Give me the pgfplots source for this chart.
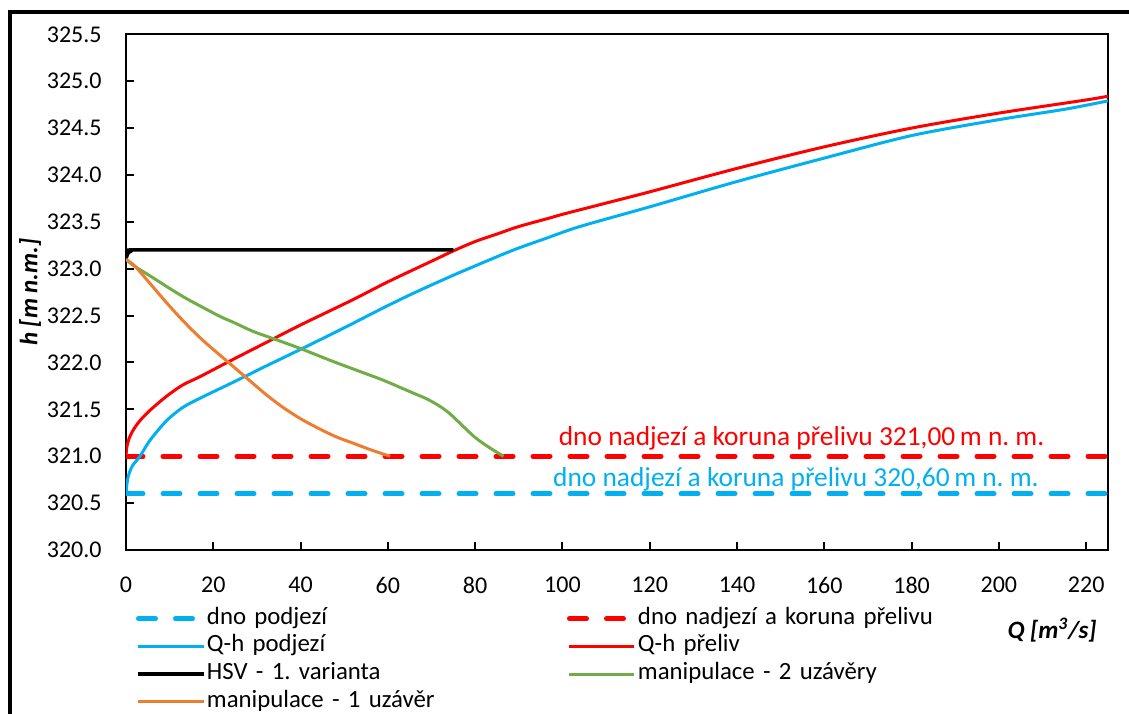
\documentclass[border=0pt]{standalone}
\usepackage{pgfplots}
\pgfplotsset{compat=1.18}
\usepackage{fontspec}
\setmainfont{Carlito}
\frenchspacing
\definecolor{cblue}{HTML}{00B0F0}
\definecolor{cred}{HTML}{FF0000}
\definecolor{cgreen}{HTML}{70AD47}
\definecolor{corange}{HTML}{ED7D31}
\begin{document}
\frenchspacing
\begin{tikzpicture}
\begin{axis}[
  at={(0,0)}, anchor=south west,
  scale only axis, width=491pt, height=257.85pt,
  xmin=0, xmax=225, ymin=320, ymax=325.5,
  xtick={0,20,40,60,80,100,120,140,160,180,200,220},
  ytick={320,320.5,321,321.5,322,322.5,323,323.5,324,324.5,325,325.5},
  xtick pos=bottom, ytick pos=left,
  tick align=inside, major tick length=4pt,
  tick style={black, line width=1pt},
  axis line style={black, line width=1pt},
  /pgf/number format/assume math mode=true,
  tick label style={font=\fontsize{12}{14}\selectfont},
  y tick label style={/pgf/number format/fixed, /pgf/number format/fixed zerofill, /pgf/number format/precision=1, anchor=east, inner sep=0pt, xshift=-12pt},
  x tick label style={anchor=north, inner sep=0pt, yshift=-13.5pt},
  every axis y label/.style={at={(axis description cs:0,0.5)}, xshift=-48pt, rotate=90, anchor=center, font=\fontsize{12.5}{15}\selectfont\bfseries\itshape},
  every axis x label/.style={at={(axis description cs:0.943,0)}, yshift=-40pt, anchor=center, font=\fontsize{12.5}{15}\selectfont\bfseries\itshape},
  ylabel={h [m n.m.]},
  xlabel={Q [m\textsuperscript{3}/s]},
  legend columns=2,
  legend cell align=left,
  legend style={draw=none, fill=none, inner sep=0pt, outer sep=0pt,
    at={(axis description cs:0,0)}, anchor=north west, xshift=5pt, yshift=-27.5pt,
    font=\fontsize{12.4}{14}\selectfont,
    nodes={inner sep=0pt, text height=9.6pt, text depth=4.2pt, text width=180pt, align=left},
    /tikz/every odd column/.append style={column sep=0.5pt},
    /tikz/every even column/.append style={column sep=0pt},
    row sep=0pt},
  legend image code/.code={\draw[#1] (0pt,0pt) -- (32.5pt,0pt);},
]
\addplot[cblue, line width=2.5pt, dash pattern=on 8.5pt off 10pt, line cap=round] coordinates {(0,320.6) (225,320.6)};
\addlegendentry{dno podjezí}
\addplot[cred, line width=2.5pt, dash pattern=on 8.5pt off 10pt, line cap=round] coordinates {(0,321.0) (225,321.0)};
\addlegendentry{dno nadjezí a koruna přelivu}
\addplot[cblue, line width=1.5pt, smooth, tension=0.5] coordinates {
(0,320.6) (0.2,320.7) (0.6,320.8) (1.5,320.9) (3.2,321.0) (5.5,321.17) (9.3,321.38) (13,321.52) (17,321.62) (24.6,321.79) (32,321.96) (40,322.14) (50,322.37) (58,322.56) (65,322.72) (73.5,322.9) (80,323.03) (88.8,323.2) (96,323.32) (104,323.45) (120,323.66) (140,323.93) (160,324.18) (180,324.42) (200,324.59) (215,324.7) (225,324.79)};
\addlegendentry{Q-h podjezí}
\addplot[cred, line width=1.5pt, smooth, tension=0.5] coordinates {
(0,321.0) (0.2,321.1) (0.8,321.2) (1.8,321.29) (3.2,321.38) (5.5,321.49) (9.3,321.64) (13,321.76) (17,321.85) (24,322.02) (32,322.21) (40,322.4) (52,322.67) (60,322.86) (70,323.08) (75,323.19) (80,323.29) (85,323.37) (90,323.45) (97,323.54) (100,323.58) (110,323.7) (120,323.82) (140,324.07) (160,324.3) (180,324.5) (200,324.66) (220,324.8) (225,324.84)};
\addlegendentry{Q-h přeliv}
\addplot[black, line width=1.75pt, smooth, tension=0.4] coordinates {
(0,323.1) (0.4,323.16) (1.2,323.19) (2.5,323.2) (75,323.2)};
\addlegendentry{HSV - 1. varianta}
\addplot[cgreen, line width=1.5pt, smooth, tension=0.5] coordinates {
(0,323.1) (1.5,323.04) (3.2,322.99) (6.3,322.9) (10,322.79) (13.9,322.68) (17.5,322.59) (21.6,322.49) (25,322.42) (29.2,322.33) (34.6,322.24) (39.9,322.15) (47.5,322.01) (55,321.88) (59,321.81) (63,321.73) (66,321.67) (69,321.61) (72,321.53) (74.3,321.45) (77,321.33) (80,321.2) (83,321.1) (86.5,321.0)};
\addlegendentry{manipulace - 2 uzávěry}
\addplot[corange, line width=1.5pt, smooth, tension=0.5] coordinates {
(0,323.1) (2,323.03) (5,322.87) (10,322.6) (14,322.4) (18,322.22) (23.5,322.0) (28,321.82) (32.3,321.65) (36,321.52) (40,321.4) (44,321.3) (48,321.21) (52,321.14) (56,321.07) (60.5,321.0)};
\addlegendentry{manipulace - 1 uzávěr}
\node[cred, anchor=base, font=\fontsize{13.7}{16}\selectfont, inner sep=0pt] at (axis cs:154.8,321.11) {dno nadjezí a koruna přelivu 321,00\,m n. m.};
\node[cblue, anchor=base, font=\fontsize{13.7}{16}\selectfont, inner sep=0pt] at (axis cs:153.5,320.68) {dno nadjezí a koruna přelivu 320,60\,m n. m.};
\end{axis}
\draw[line width=2pt] (-57.75pt,-100pt) -- (-57.75pt,268.75pt) -- (520pt,268.75pt);
\pgfresetboundingbox
\useasboundingbox (-63pt,-81.5pt) rectangle (501.5pt,275pt);
\end{tikzpicture}
\end{document}
